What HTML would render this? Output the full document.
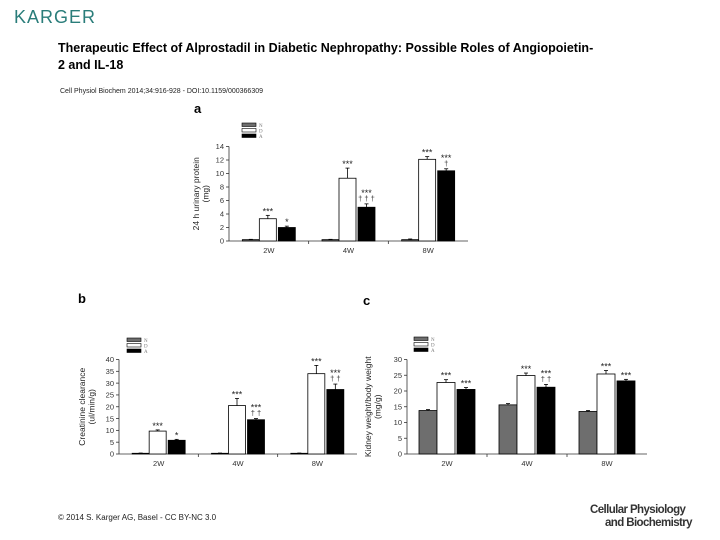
<!DOCTYPE html>
<html><head><meta charset="utf-8"><style>
body{margin:0;background:#fff;}
svg{display:block;font-family:"Liberation Sans",Arial,sans-serif;}
</style></head><body>
<svg id="s" width="720" height="540" viewBox="0 0 720 540">
<text x="14" y="23" font-size="18" fill="#2a7d7a" letter-spacing="1">KARGER</text>
<text x="58" y="52" font-size="12.5" font-weight="bold">Therapeutic Effect of Alprostadil in Diabetic Nephropathy: Possible Roles of Angiopoietin-</text>
<text x="58" y="69" font-size="12.5" font-weight="bold">2 and IL-18</text>
<text x="60" y="93" font-size="7" fill="#222">Cell Physiol Biochem 2014;34:916-928 -  DOI:10.1159/000366309</text>
<text x="58" y="520" font-size="8" fill="#222">© 2014 S. Karger AG, Basel - CC BY-NC 3.0</text>
<text x="590" y="513" font-size="11.5" font-weight="bold" fill="#333" letter-spacing="-0.6">Cellular Physiology</text>
<text x="605" y="526" font-size="11.5" font-weight="bold" fill="#333" letter-spacing="-0.6">and Biochemistry</text>
<g id="charts"></g>
</svg>
<script>
const categories = ["2W","4W","8W"];
// panel a: 24 h urinary protein
const aN = [0.2,0.2,0.2], aD = [3.3,9.3,12.1], aA = [2.0,5.0,10.4];
const aNe = [0.05,0.05,0.1], aDe = [0.5,1.5,0.4], aAe = [0.2,0.5,0.3];
const aTicks = [0,2,4,6,8,10,12,14];
const aStarD = ["***","***","***"], aStarA = ["*","***","***"], aDagA = ["","† † †","†"];
// panel b: creatinine clearance
const bN = [0.3,0.3,0.3], bD = [9.7,20.5,34.0], bA = [5.8,14.5,27.3];
const bNe = [0.1,0.1,0.1], bDe = [0.5,3.0,3.5], bAe = [0.4,0.5,2.3];
const bTicks = [0,5,10,15,20,25,30,35,40];
const bStarD = ["***","***","***"], bStarA = ["*","***","***"], bDagA = ["","† †","† †"];
// panel c: kidney weight / body weight
const cN = [13.8,15.6,13.5], cD = [22.7,24.9,25.4], cA = [20.5,21.2,23.2];
const cNe = [0.3,0.4,0.3], cDe = [0.9,0.8,1.1], cAe = [0.6,0.9,0.5];
const cTicks = [0,5,10,15,20,25,30];
const cStarD = ["***","***","***"], cStarA = ["***","***","***"], cDagA = ["","† †",""];

const NS="http://www.w3.org/2000/svg";
const root=document.getElementById('charts');
function mk(tag,attrs,parent,txt){const e=document.createElementNS(NS,tag);for(const k in attrs)e.setAttribute(k,attrs[k]);if(txt!==undefined)e.textContent=txt;(parent||root).appendChild(e);return e;}

function chart(o){
  const g=mk('g',{});
  
  
  const max=o.ticks[o.ticks.length-1];
  const y=v=>o.y0-(v/max)*(o.y0-o.yTop);
  const lt=mk('text',{x:o.letterX,y:o.letterY,'font-size':13,'font-weight':'bold'},g,o.letter);
  
  
  const ya=mk('line',{x1:o.x0,x2:o.x0,y1:o.yTop,y2:o.y0,stroke:'#333','stroke-width':0.8},g);
  
  
  const xa=mk('line',{x1:o.x0,x2:o.xEnd,y1:o.y0,y2:o.y0,stroke:'#333','stroke-width':0.8},g);
  
  
  o.ticks.forEach(t=>{
    mk('line',{x1:o.x0-3,x2:o.x0,y1:y(t),y2:y(t),stroke:'#333','stroke-width':0.8},g);
    const tl=mk('text',{x:o.x0-5,y:y(t)+2.7,'font-size':7.5,'text-anchor':'end',fill:'#333'},g,t);
    
    
  });
  const gw=(o.xEnd-o.x0)/3;
  for(let i=1;i<3;i++) mk('line',{x1:o.x0+gw*i,x2:o.x0+gw*i,y1:o.y0,y2:o.y0+3,stroke:'#333','stroke-width':0.8},g);
  const yl=mk('text',{transform:`translate(${o.ylX},${(o.y0+o.yTop)/2}) rotate(-90)`,'font-size':8.5,'text-anchor':'middle',fill:'#222'},g);
  
  
  mk('tspan',{x:0,dy:0},yl,o.ylab1);
  mk('tspan',{x:0,dy:9.5},yl,o.ylab2);
  const series=[[o.N,o.Ne,'#6e6e6e','N'],[o.D,o.De,'#fff','D'],[o.A,o.Ae,'#000','A']];
  const bw=o.bw;
  const offs=[-1.5*bw-1,-0.5*bw-1,0.5*bw+1];
  categories.forEach((c,i)=>{
    const gx=o.x0+gw*i+gw/2;
    const cl=mk('text',{x:gx,y:o.y0+12,'font-size':7.5,'text-anchor':'middle',fill:'#333'},g,c);
    
    
    series.forEach((s,j)=>{
      const bx=gx+offs[j];
      const v=s[0][i], e=s[1][i];
      mk('line',{x1:bx+bw/2,x2:bx+bw/2,y1:y(v),y2:y(v+e),stroke:'#000','stroke-width':0.8},g);
      mk('line',{x1:bx+bw/2-2,x2:bx+bw/2+2,y1:y(v+e),y2:y(v+e),stroke:'#000','stroke-width':0.8},g);
      const r=mk('rect',{x:bx,y:y(v),width:bw,height:o.y0-y(v),fill:s[2],stroke:'#000','stroke-width':0.8},g);
      
      
      if(j>0){
        const star=j===1?o.sD[i]:o.sA[i];
        const dag=j===2?o.dA[i]:'';
        const top=y(v+e);
        let sy=top-4;
        if(dag){
          const dt=mk('text',{x:bx+bw/2,y:top-3,'font-size':7.5,'text-anchor':'middle',fill:'#333'},g,dag);
          
          
          sy=top-11;
        }
        const st=mk('text',{x:bx+bw/2,y:sy+3,'font-size':9,'text-anchor':'middle',fill:'#222'},g,star);
        
        
      }
    });
  });
  series.forEach((s,j)=>{
    const ly=o.legY+j*5.5;
    const lr=mk('rect',{x:o.legX,y:ly,width:14,height:3.5,fill:s[2],stroke:'#000','stroke-width':0.6},g);
    
    
    const ltx=mk('text',{x:o.legX+17,y:ly+4,'font-size':5,fill:'#777','font-family':'Liberation Serif,serif'},g,s[3]);
    
    
  });
}
chart({name:'chart-a-urinary-protein',letter:'a',letterX:194,letterY:113,x0:229,xEnd:468,y0:241,yTop:146.5,ticks:aTicks,bw:17,
  N:aN,D:aD,A:aA,Ne:aNe,De:aDe,Ae:aAe,sD:aStarD,sA:aStarA,dA:aDagA,ylX:199,ylab1:'24 h urinary protein',ylab2:'(mg)',legX:242,legY:123});
chart({name:'chart-b-creatinine-clearance',letter:'b',letterX:78,letterY:303,x0:119,xEnd:357,y0:454,yTop:359.5,ticks:bTicks,bw:17,
  N:bN,D:bD,A:bA,Ne:bNe,De:bDe,Ae:bAe,sD:bStarD,sA:bStarA,dA:bDagA,ylX:85,ylab1:'Creatinine clearance',ylab2:'(ul/min/g)',legX:127,legY:338});
chart({name:'chart-c-kidney-weight',letter:'c',letterX:363,letterY:305,x0:407,xEnd:647,y0:454,yTop:359.5,ticks:cTicks,bw:18,
  N:cN,D:cD,A:cA,Ne:cNe,De:cDe,Ae:cAe,sD:cStarD,sA:cStarA,dA:cDagA,ylX:371,ylab1:'Kidney weight/body weight',ylab2:'(mg/g)',legX:414,legY:337});
</script>
</body></html>
